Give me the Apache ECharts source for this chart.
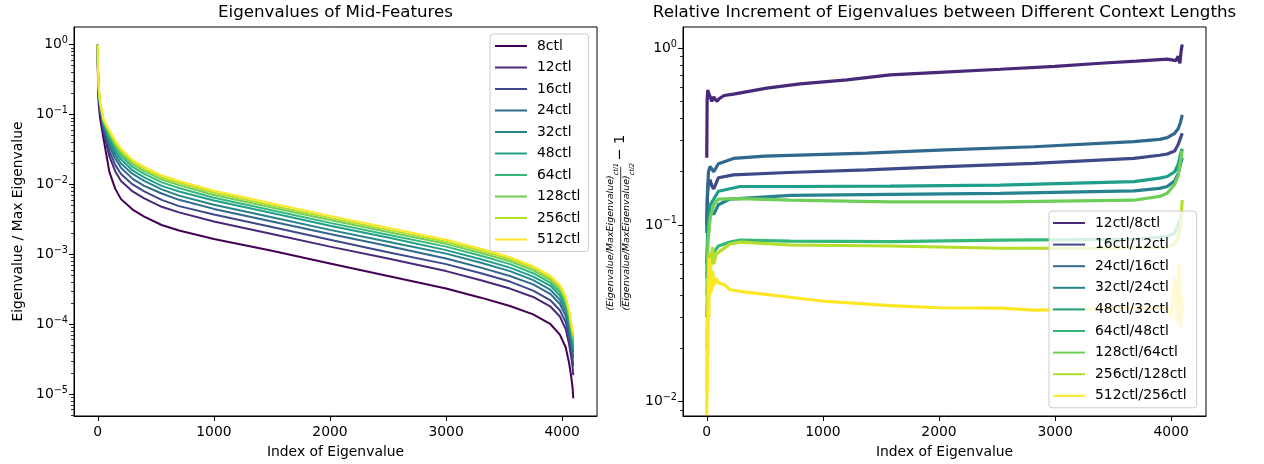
<!DOCTYPE html>
<html><head><meta charset="utf-8">
<script src="https://cdn.jsdelivr.net/npm/echarts@6/dist/echarts.min.js"></script>
<style>html,body{margin:0;padding:0;background:#fff}#c{width:1264px;height:464px}</style>
</head><body><div id="c"></div><script>
// ---------- DATA ----------
// Left panel: eigenvalue index positions and log10(Eigenvalue / Max Eigenvalue) per context length
const eigIdx = [0, 1, 3, 8, 20, 50, 100, 150, 200, 300, 400, 550, 700, 1000, 1500, 2000, 2500, 3000, 3300, 3550, 3750, 3900, 3980, 4030, 4060, 4080, 4090, 4095];
const ctlNames = ['8ctl','12ctl','16ctl','24ctl','32ctl','48ctl','64ctl','128ctl','256ctl','512ctl'];
const log10_8ctl   = [0, -0.40, -0.60, -0.85, -1.05, -1.35, -1.82, -2.06, -2.21, -2.36, -2.46, -2.58, -2.66, -2.78, -2.95, -3.13, -3.31, -3.49, -3.62, -3.74, -3.86, -4.00, -4.15, -4.33, -4.56, -4.78, -4.92, -5.06];
const log10_12ctl  = [0, -0.33, -0.53, -0.76, -0.97, -1.25, -1.60, -1.81, -1.95, -2.10, -2.20, -2.32, -2.40, -2.53, -2.71, -2.89, -3.06, -3.24, -3.37, -3.49, -3.61, -3.75, -3.89, -4.07, -4.29, -4.50, -4.62, -4.73];
const log10_16ctl  = [0, -0.30, -0.50, -0.73, -0.94, -1.21, -1.52, -1.72, -1.85, -2.00, -2.10, -2.22, -2.31, -2.43, -2.61, -2.79, -2.97, -3.14, -3.27, -3.39, -3.52, -3.66, -3.80, -3.97, -4.18, -4.39, -4.50, -4.60];
const log10_24ctl  = [0, -0.28, -0.48, -0.70, -0.91, -1.18, -1.45, -1.63, -1.76, -1.92, -2.02, -2.13, -2.22, -2.35, -2.53, -2.71, -2.88, -3.06, -3.19, -3.31, -3.43, -3.57, -3.71, -3.88, -4.09, -4.30, -4.40, -4.48];
const log10_32ctl  = [0, -0.26, -0.46, -0.67, -0.89, -1.15, -1.39, -1.57, -1.70, -1.85, -1.95, -2.07, -2.16, -2.29, -2.47, -2.65, -2.82, -2.99, -3.12, -3.24, -3.37, -3.51, -3.65, -3.81, -4.02, -4.23, -4.32, -4.40];
const log10_48ctl  = [0, -0.24, -0.44, -0.65, -0.87, -1.13, -1.35, -1.52, -1.64, -1.80, -1.90, -2.02, -2.10, -2.23, -2.41, -2.59, -2.76, -2.94, -3.07, -3.19, -3.32, -3.45, -3.59, -3.75, -3.96, -4.16, -4.26, -4.33];
const log10_64ctl  = [0, -0.23, -0.43, -0.64, -0.85, -1.11, -1.31, -1.47, -1.59, -1.75, -1.85, -1.97, -2.05, -2.19, -2.37, -2.55, -2.72, -2.89, -3.02, -3.14, -3.27, -3.41, -3.54, -3.71, -3.91, -4.11, -4.20, -4.26];
const log10_128ctl = [0, -0.22, -0.42, -0.62, -0.84, -1.10, -1.27, -1.43, -1.55, -1.71, -1.81, -1.93, -2.01, -2.15, -2.33, -2.51, -2.68, -2.85, -2.98, -3.10, -3.23, -3.37, -3.50, -3.67, -3.87, -4.07, -4.16, -4.21];
const log10_256ctl = [0, -0.21, -0.41, -0.61, -0.83, -1.08, -1.25, -1.40, -1.52, -1.68, -1.78, -1.90, -1.98, -2.12, -2.30, -2.48, -2.65, -2.82, -2.95, -3.07, -3.20, -3.34, -3.47, -3.63, -3.83, -4.04, -4.12, -4.17];
const log10_512ctl = [0, -0.20, -0.40, -0.60, -0.82, -1.07, -1.22, -1.37, -1.49, -1.65, -1.75, -1.87, -1.95, -2.09, -2.27, -2.45, -2.62, -2.79, -2.92, -3.04, -3.17, -3.31, -3.44, -3.60, -3.80, -4.00, -4.08, -4.13];
const leftLogs = [log10_8ctl, log10_12ctl, log10_16ctl, log10_24ctl, log10_32ctl, log10_48ctl, log10_64ctl, log10_128ctl, log10_256ctl, log10_512ctl];

// Right panel: [index, relative increment]
const ratioNames = ['12ctl/8ctl','16ctl/12ctl','24ctl/16ctl','32ctl/24ctl','48ctl/32ctl','64ctl/48ctl','128ctl/64ctl','256ctl/128ctl','512ctl/256ctl'];
const r12_8 = [[0,0.24],[3,0.5],[8,0.58],[14,0.57],[20,0.55],[30,0.53],[43,0.5],[60,0.53],[86,0.5],[110,0.52],[150,0.54],[230,0.55],[517,0.594],[805,0.628],[1207,0.662],[1580,0.706],[2000,0.73],[2528,0.76],[3000,0.79],[3391,0.822],[3700,0.845],[3966,0.867],[4040,0.85],[4060,0.9],[4075,0.82],[4085,0.96],[4095,1.05]];
const r16_12 = [[0,0.1],[5,0.14],[12,0.17],[28,0.18],[45,0.165],[60,0.16],[80,0.172],[100,0.185],[230,0.192],[700,0.198],[1379,0.205],[2000,0.213],[2816,0.223],[3678,0.238],[3900,0.248],[3966,0.252],[4030,0.262],[4060,0.285],[4080,0.31],[4095,0.33]];
const r24_16 = [[0,0.09],[5,0.15],[15,0.2],[28,0.214],[60,0.2],[100,0.222],[230,0.238],[500,0.245],[1379,0.255],[2000,0.265],[2816,0.277],[3678,0.296],[3900,0.305],[3966,0.312],[4030,0.33],[4060,0.35],[4080,0.38],[4095,0.42]];
const r32_24 = [[0,0.06],[10,0.1],[30,0.12],[60,0.115],[100,0.13],[200,0.14],[718,0.147],[1580,0.149],[2528,0.151],[3678,0.156],[3900,0.161],[3966,0.165],[4030,0.178],[4060,0.195],[4080,0.22],[4095,0.24]];
const r48_32 = [[0,0.05],[10,0.1],[30,0.13],[60,0.14],[100,0.155],[287,0.165],[718,0.165],[1580,0.166],[2528,0.168],[3678,0.176],[3900,0.184],[3966,0.188],[4030,0.2],[4060,0.22],[4080,0.25],[4095,0.27]];
const r64_48 = [[0,0.03],[10,0.05],[30,0.065],[60,0.07],[100,0.076],[200,0.08],[287,0.082],[718,0.081],[1580,0.0805],[2528,0.082],[3678,0.083],[3966,0.086],[4030,0.09],[4060,0.1],[4080,0.11],[4095,0.12]];
const r128_64 = [[0,0.04],[10,0.08],[30,0.11],[60,0.13],[100,0.14],[287,0.141],[718,0.138],[1580,0.135],[2528,0.135],[3678,0.138],[3900,0.145],[3966,0.151],[4030,0.17],[4060,0.19],[4080,0.23],[4095,0.265]];
const r256_128 = [[0,0.02],[10,0.04],[20,0.07],[30,0.055],[50,0.075],[60,0.06],[80,0.068],[100,0.07],[200,0.078],[287,0.08],[718,0.077],[1580,0.076],[2528,0.0738],[3391,0.074],[3966,0.075],[4030,0.078],[4060,0.085],[4080,0.1],[4095,0.138]];
const r512_256 = [[0,0.0084],[2,0.02],[4,0.011],[7,0.03],[10,0.018],[14,0.05],[18,0.03],[22,0.065],[27,0.04],[32,0.06],[40,0.042],[50,0.055],[60,0.045],[80,0.05],[100,0.047],[150,0.046],[200,0.043],[300,0.042],[431,0.041],[718,0.039],[1006,0.037],[1293,0.036],[1580,0.035],[2000,0.034],[2528,0.0338],[2816,0.033],[3391,0.0335],[3700,0.034],[3966,0.034],[4000,0.03],[4030,0.05],[4050,0.028],[4070,0.06],[4080,0.026],[4090,0.04],[4095,0.03]];
const rightData = [r12_8, r16_12, r24_16, r32_24, r48_32, r64_48, r128_64, r256_128, r512_256];

// Axis ticks
const xTicks = [0, 1000, 2000, 3000, 4000];
const leftYMajor = [1e-5, 1e-4, 1e-3, 1e-2, 1e-1, 1];
const rightYMajor = [1e-2, 1e-1, 1];

// ---------- STYLE ----------
const viridis = ['#440154','#482878','#3e4989','#31688e','#26828e','#1f9e89','#35b779','#6ece58','#b5de2b','#fde725'];
const FONT = 'DejaVu Sans';
const FS = 13.9;

function minorTicks(lo, hi) {
  const out = [];
  for (let e = -7; e <= 1; e++) {
    for (let m = 2; m <= 9; m++) {
      const v = m * Math.pow(10, e);
      if (v > lo && v < hi) out.push(v);
    }
  }
  return out;
}
function powLabel(v) {
  const e = Math.round(Math.log10(v));
  const s = String(e).replace('-', '\u2212');
  return '{b|10}{s|' + s + '}';
}
const labelRich = {
  b: {fontSize: FS, fontFamily: FONT, color: '#000', lineHeight: 18, verticalAlign: 'middle'},
  s: {fontSize: 9.7, fontFamily: FONT, color: '#000', lineHeight: 8, verticalAlign: 'top'}
};

const L_MIN = 4.86e-6, L_MAX = 1.79;
const R_MIN = 0.0083, R_MAX = 1.318;
const X_MIN = -204.75, X_MAX = 4299.75;

function xAxisCfg(gi) {
  return {
    type: 'value', gridIndex: gi, min: X_MIN, max: X_MAX,
    name: 'Index of Eigenvalue', nameLocation: 'middle', nameGap: 29,
    nameTextStyle: {fontSize: FS, fontFamily: FONT, color: '#000'},
    axisLine: {show: true, onZero: false, lineStyle: {color: '#000', width: 1}},
    axisTick: {show: true, length: 5, lineStyle: {color: '#000', width: 1}, customValues: xTicks},
    axisLabel: {color: '#000', fontSize: FS, fontFamily: FONT, margin: 9, customValues: xTicks, formatter: v => String(v)},
    splitLine: {show: false}
  };
}
function yMain(gi, lo, hi, major, name) {
  return {
    type: 'log', gridIndex: gi, min: lo, max: hi, logBase: 10,
    name: name || '', nameLocation: 'middle', nameGap: 49, nameRotate: 90,
    nameTextStyle: {fontSize: FS, fontFamily: FONT, color: '#000'},
    axisLine: {show: true, onZero: false, lineStyle: {color: '#000', width: 1}},
    axisTick: {show: true, length: 5, lineStyle: {color: '#000', width: 1}, customValues: major},
    axisLabel: {margin: 6, customValues: major, formatter: powLabel, rich: labelRich},
    splitLine: {show: false}
  };
}
function yMinor(gi, lo, hi) {
  return {
    type: 'log', gridIndex: gi, min: lo, max: hi, logBase: 10, position: 'left',
    axisLine: {show: false, onZero: false},
    axisTick: {show: true, length: 3, lineStyle: {color: '#000', width: 0.8}, customValues: minorTicks(lo, hi)},
    axisLabel: {show: false},
    splitLine: {show: false}
  };
}

const series = [];
leftLogs.forEach((arr, i) => {
  series.push({
    name: ctlNames[i], type: 'line', xAxisIndex: 0, yAxisIndex: 0,
    data: eigIdx.map((x, k) => [x, Math.pow(10, arr[k])]),
    symbol: 'none', showSymbol: false,
    lineStyle: {width: 2, color: viridis[i]}, itemStyle: {color: viridis[i]},
    emphasis: {disabled: true}
  });
});
rightData.forEach((arr, i) => {
  series.push({
    name: ratioNames[i], type: 'line', xAxisIndex: 1, yAxisIndex: 2,
    data: arr, symbol: 'none', showSymbol: false,
    lineStyle: {width: 3.2, color: viridis[i + 1]}, itemStyle: {color: viridis[i + 1]},
    emphasis: {disabled: true}
  });
});

const legendBase = {
  orient: 'vertical', icon: 'rect', itemWidth: 32, itemHeight: 2,
  backgroundColor: 'rgba(255,255,255,0.8)', borderColor: '#cccccc', borderWidth: 1, borderRadius: 3,
  textStyle: {fontSize: FS, fontFamily: FONT, color: '#000', lineHeight: 16, padding: [0, 0, 0, 5]},
  selectedMode: false, z: 10
};

const fracRich = {
  m: {fontSize: 9.5, fontFamily: FONT, fontStyle: 'italic', color: '#000', lineHeight: 14, verticalAlign: 'top'},
  s: {fontSize: 6.7, fontFamily: FONT, fontStyle: 'italic', color: '#000', lineHeight: 7, verticalAlign: 'bottom'}
};

const option = {
  animation: false,
  backgroundColor: '#fff',
  textStyle: {fontFamily: FONT},
  grid: [
    {left: 74, top: 27, width: 523, height: 389, show: true, borderColor: '#000', borderWidth: 1, backgroundColor: 'transparent'},
    {left: 683, top: 27, width: 523, height: 389, show: true, borderColor: '#000', borderWidth: 1, backgroundColor: 'transparent'}
  ],
  xAxis: [xAxisCfg(0), xAxisCfg(1)],
  yAxis: [
    yMain(0, L_MIN, L_MAX, leftYMajor, 'Eigenvalue / Max Eigenvalue'),
    yMinor(0, L_MIN, L_MAX),
    yMain(1, R_MIN, R_MAX, rightYMajor, ''),
    yMinor(1, R_MIN, R_MAX)
  ],
  legend: [
    Object.assign({}, legendBase, {left: 490, top: 34, padding: [4, 8, 4, 5], itemGap: 5.5, data: ctlNames}),
    Object.assign({}, legendBase, {left: 1049, top: 211, padding: [4, 10, 4, 4], itemGap: 5.6, data: ratioNames})
  ],
  graphic: [
    {type: 'text', x: 335.5, y: 13, style: {text: 'Eigenvalues of Mid-Features', fontSize: 16.7, fontFamily: FONT, fill: '#000', align: 'center', verticalAlign: 'middle'}},
    {type: 'text', x: 944.5, y: 13, style: {text: 'Relative Increment of Eigenvalues between Different Context Lengths', fontSize: 16.7, fontFamily: FONT, fill: '#000', align: 'center', verticalAlign: 'middle'}},
    {type: 'group', x: 620.7, y: 236.7, rotation: Math.PI / 2, children: [
      {type: 'text', x: 0, y: -1, style: {text: '{m|(Eigenvalue/MaxEigenvalue)}{s|ctl1}', rich: fracRich, align: 'center', verticalAlign: 'bottom'}},
      {type: 'line', shape: {x1: -70, y1: 0, x2: 70, y2: 0}, style: {stroke: '#000', lineWidth: 0.8}},
      {type: 'text', x: 0, y: 1, style: {text: '{m|(Eigenvalue/MaxEigenvalue)}{s|ctl2}', rich: fracRich, align: 'center', verticalAlign: 'top'}},
      {type: 'text', x: 76, y: 0, style: {text: '\u2212 1', fontSize: 14.5, fontFamily: FONT, fill: '#000', align: 'left', verticalAlign: 'middle'}}
    ]}
  ],
  series: series
};

const chart = echarts.init(document.getElementById('c'), null, {renderer: 'canvas'});
chart.setOption(option);
</script></body></html>
